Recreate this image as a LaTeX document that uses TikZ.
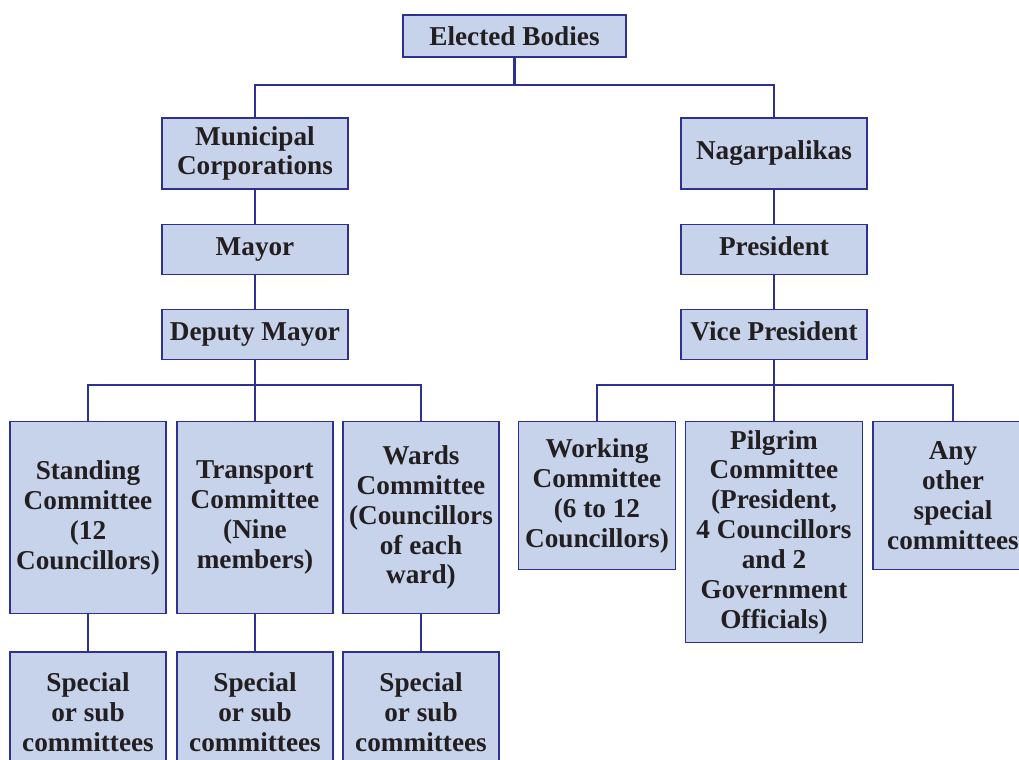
\documentclass[tikz,border=0pt]{standalone}
\usepackage{fontspec}
\setmainfont{Liberation Serif}
\usetikzlibrary{positioning, calc}

\definecolor{boxfill}{RGB}{198,211,234}
\definecolor{boxline}{RGB}{46,49,146}
\definecolor{inkdark}{RGB}{35,31,32}

\begin{document}
\begin{tikzpicture}[
  x=0.02cm, y=-0.02cm,
  orgbox/.style={
    fill=boxfill, draw=boxline, line width=0.8pt,
    font=\fontsize{15.5}{17}\selectfont\bfseries, text=inkdark,
    align=center, inner sep=0pt
  },
  headbox/.style={orgbox, minimum width=4.46cm, minimum height=0.84cm},
  bodybox/.style={orgbox, minimum width=3.72cm, minimum height=1.42cm},
  postbox/.style={orgbox, minimum width=3.72cm, minimum height=1.0cm},
  cmtbox/.style={orgbox, minimum width=3.12cm, minimum height=3.84cm, anchor=north},
  subbox/.style={orgbox, minimum width=3.12cm, minimum height=2.4cm},
  link/.style={draw=boxline, line width=1.6pt},
  node distance=0.68cm
]
\useasboundingbox (0,0) rectangle (1019,760);

%% Top level
\node[headbox] (elect) at (514.5,36) {Elected Bodies};

\node[bodybox] (mcorp) at (255,153.5) {Municipal\\Corporations};
\node[bodybox] (nagar) at (774,153.5) {Nagarpalikas\strut};

\coordinate (topbar) at (514.5,85);
\draw[link] (elect) -- (topbar);
\draw[link] (mcorp.north) |- (topbar) -| (nagar.north);

%% Municipal Corporations branch
\node[postbox, below=of mcorp] (mayor) {Mayor\strut};
\node[postbox, below=of mayor] (dmayor) {Deputy Mayor\strut};
\draw[link] (mcorp) -- (mayor);
\draw[link] (mayor) -- (dmayor);

\node[cmtbox] (stand) at (88,421)
  {Standing\\Committee\\(12\\Councillors)};
\node[cmtbox] (trans) at (255,421)
  {Transport\\Committee\\(Nine\\members)};
\node[cmtbox] (wards) at (421,421)
  {Wards\\Committee\\(Councillors\\of each\\ward)};

\coordinate (leftbar) at (255,385);
\draw[link] (dmayor) -- (leftbar);
\draw[link] (stand.north) |- (leftbar) -| (wards.north);
\draw[link] (trans.north) -- (leftbar);

%% Special or sub committees
\foreach \cmt/\sub in {stand/substand, trans/subtrans, wards/subwards} {
  \node[subbox, below=0.74cm of \cmt] (\sub) {Special\\or sub\\committees};
  \draw[link] (\cmt) -- (\sub);
}

%% Nagarpalikas branch
\node[postbox, below=of nagar] (pres) {President\strut};
\node[postbox, below=of pres] (vpres) {Vice President\strut};
\draw[link] (nagar) -- (pres);
\draw[link] (pres) -- (vpres);

\node[orgbox, minimum width=3.14cm, minimum height=2.96cm, anchor=north] (work)
  at (597,421) {Working\\Committee\\(6 to 12\\Councillors)};
\node[orgbox, minimum width=3.54cm, minimum height=4.42cm, anchor=north] (pilg)
  at (774,421) {Pilgrim\\Committee\\(President,\\4 Councillors\\and 2\\Government\\Officials)};
\node[orgbox, minimum width=3.2cm, minimum height=2.96cm, anchor=north] (other)
  at (953,421) {Any\\other\\special\\committees};

\coordinate (rightbar) at (774,385);
\draw[link] (vpres) -- (rightbar);
\draw[link] (work.north) |- (rightbar) -| (other.north);
\draw[link] (pilg.north) -- (rightbar);

\end{tikzpicture}
\end{document}
